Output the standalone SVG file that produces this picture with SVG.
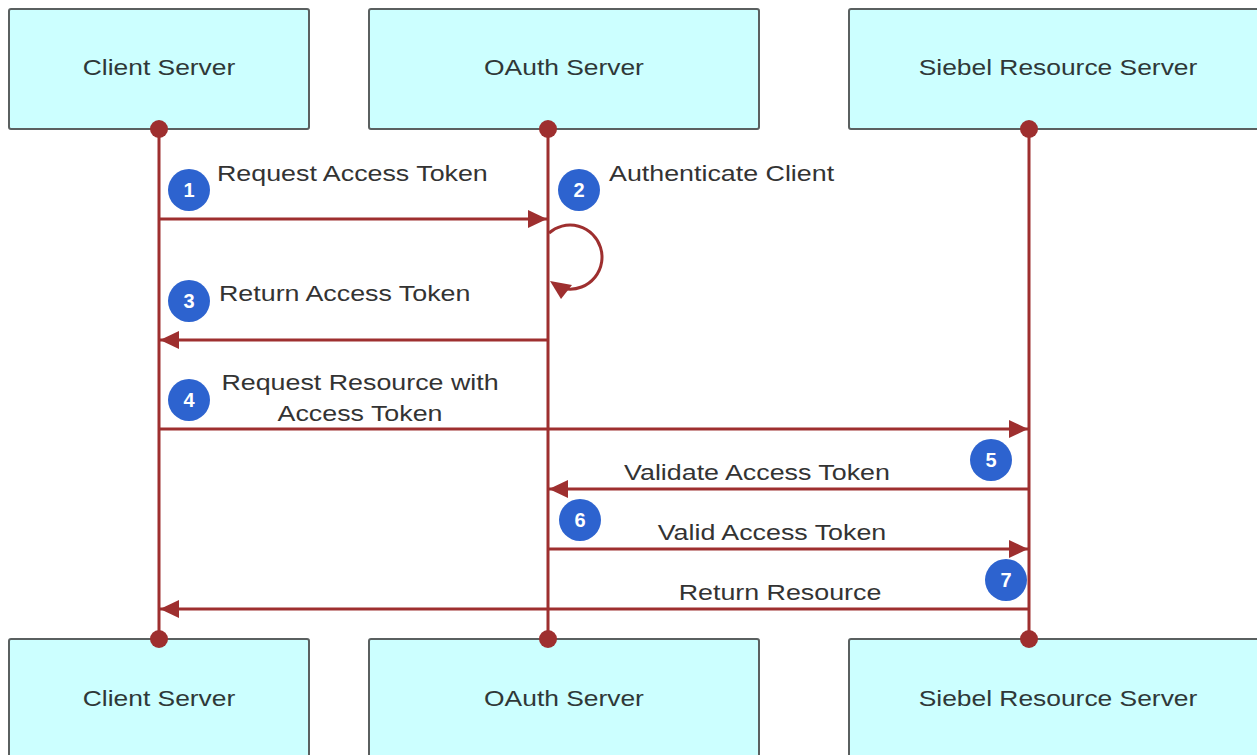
<svg xmlns="http://www.w3.org/2000/svg" width="1257" height="755" viewBox="0 0 1257 755">
<style>
.box{fill:#ccffff;stroke:#5a6060;stroke-width:2}
.title{font-family:"Liberation Sans",Arial,sans-serif;font-size:22px;fill:#2f3838;text-anchor:middle}
.lbl{font-family:"Liberation Sans",Arial,sans-serif;font-size:22px;fill:#333}
.mid{text-anchor:middle}
.life{stroke:#9e2f2f;stroke-width:3;fill:none}
.msg{stroke:#9e2f2f;stroke-width:3;fill:none;marker-end:url(#ah)}
.dot{fill:#9e2f2f}
.badge{fill:#2d63cf}
.num{font-family:"Liberation Sans",Arial,sans-serif;font-size:20px;font-weight:bold;fill:#fff;text-anchor:middle}
</style>
<defs>
<marker id="ah" markerUnits="userSpaceOnUse" markerWidth="20" markerHeight="18" refX="19" refY="9" orient="auto">
<path d="M0,0 L19,9 L0,18 z" fill="#9e2f2f"/>
</marker>
</defs>
<rect width="1257" height="755" fill="#ffffff"/>

<g id="client-top"><rect class="box" x="9" y="9" width="300" height="120" rx="2"/><text class="title" transform="translate(159,75) scale(1.2,1)">Client Server</text></g>
<g id="oauth-top"><rect class="box" x="369" y="9" width="390" height="120" rx="2"/><text class="title" transform="translate(564,75) scale(1.2,1)">OAuth Server</text></g>
<g id="siebel-top"><rect class="box" x="849" y="9" width="418" height="120" rx="2"/><text class="title" transform="translate(1058,75) scale(1.2,1)">Siebel Resource Server</text></g>

<g id="client-bottom"><rect class="box" x="9" y="639" width="300" height="125" rx="2"/><text class="title" transform="translate(159,706) scale(1.2,1)">Client Server</text></g>
<g id="oauth-bottom"><rect class="box" x="369" y="639" width="390" height="125" rx="2"/><text class="title" transform="translate(564,706) scale(1.2,1)">OAuth Server</text></g>
<g id="siebel-bottom"><rect class="box" x="849" y="639" width="418" height="125" rx="2"/><text class="title" transform="translate(1058,706) scale(1.2,1)">Siebel Resource Server</text></g>

<g id="connectors">
<line class="life" x1="159" y1="129" x2="159" y2="639"/>
<line class="life" x1="548" y1="129" x2="548" y2="639"/>
<line class="life" x1="1029" y1="129" x2="1029" y2="639"/>
<circle class="dot" cx="159" cy="129" r="9"/>
<circle class="dot" cx="548" cy="129" r="9"/>
<circle class="dot" cx="1029" cy="129" r="9"/>
<circle class="dot" cx="159" cy="639" r="9"/>
<circle class="dot" cx="548" cy="639" r="9"/>
<circle class="dot" cx="1029" cy="639" r="9"/>

<line class="msg" x1="159" y1="219" x2="547" y2="219"/>
<path class="life" d="M549,233 A32,32 0 1 1 567,289"/>
<polygon points="550,281 572,285 561,299" fill="#9e2f2f"/>
<line class="msg" x1="548" y1="340" x2="160" y2="340"/>
<line class="msg" x1="159" y1="429" x2="1028" y2="429"/>
<line class="msg" x1="1029" y1="489" x2="549" y2="489"/>
<line class="msg" x1="548" y1="549" x2="1028" y2="549"/>
<line class="msg" x1="1029" y1="609" x2="160" y2="609"/>
</g>

<g id="labels">
<text class="lbl" transform="translate(217,181) scale(1.22,1)">Request Access Token</text>
<text class="lbl" transform="translate(609,181) scale(1.22,1)">Authenticate Client</text>
<text class="lbl" transform="translate(219,301) scale(1.22,1)">Return Access Token</text>
<text class="lbl mid" transform="translate(360,390) scale(1.22,1)">Request Resource with</text>
<text class="lbl mid" transform="translate(360,421) scale(1.22,1)">Access Token</text>
<text class="lbl mid" transform="translate(757,480) scale(1.22,1)">Validate Access Token</text>
<text class="lbl mid" transform="translate(772,540) scale(1.22,1)">Valid Access Token</text>
<text class="lbl mid" transform="translate(780,600) scale(1.22,1)">Return Resource</text>
</g>

<g id="step1"><circle class="badge" cx="189" cy="190" r="21"/><text class="num" x="189" y="197">1</text></g>
<g id="step2"><circle class="badge" cx="579" cy="190" r="21"/><text class="num" x="579" y="197">2</text></g>
<g id="step3"><circle class="badge" cx="189" cy="301" r="21"/><text class="num" x="189" y="308">3</text></g>
<g id="step4"><circle class="badge" cx="189" cy="400" r="21"/><text class="num" x="189" y="407">4</text></g>
<g id="step5"><circle class="badge" cx="991" cy="460" r="21"/><text class="num" x="991" y="467">5</text></g>
<g id="step6"><circle class="badge" cx="580" cy="520" r="21"/><text class="num" x="580" y="527">6</text></g>
<g id="step7"><circle class="badge" cx="1006" cy="580" r="21"/><text class="num" x="1006" y="587">7</text></g>
</svg>
